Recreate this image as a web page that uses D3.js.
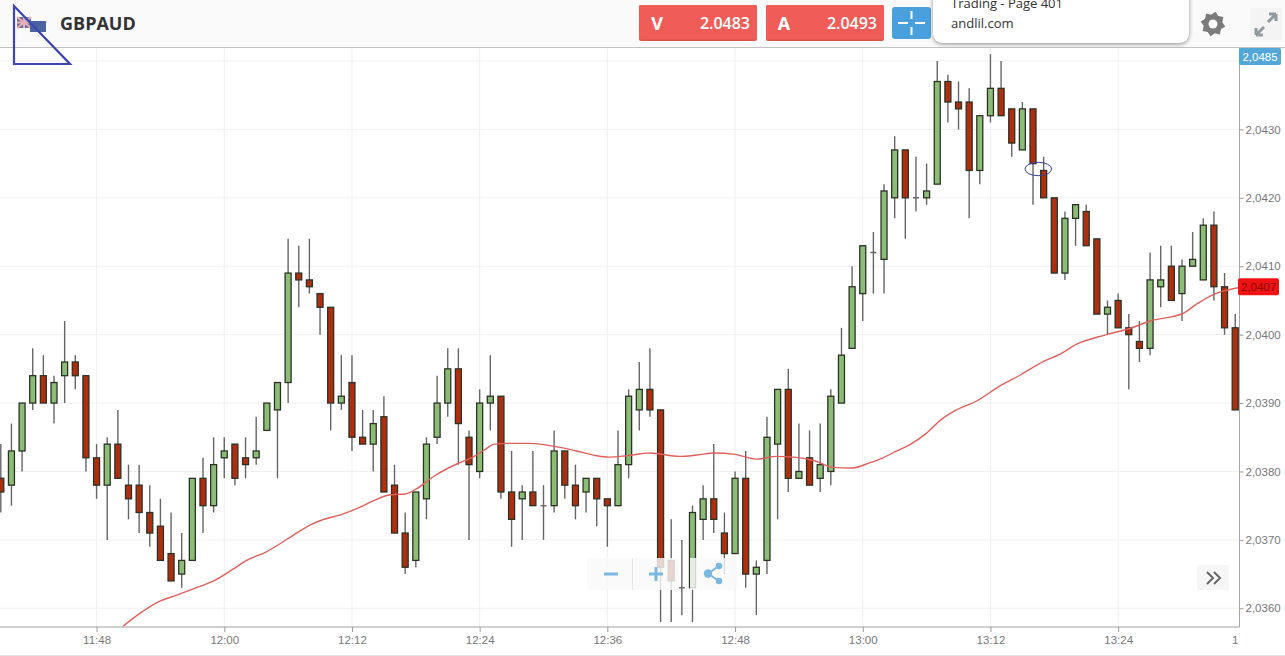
<!DOCTYPE html>
<html>
<head>
<meta charset="utf-8">
<title>GBPAUD</title>
<script src="https://cdn.jsdelivr.net/npm/d3@7"></script>
<style>
    html, body { margin: 0; padding: 0; background: #fff; overflow: hidden; }
    svg { display: block; }
    text { font-family: "Open Sans", sans-serif; }
    .axis text { font-family: "Liberation Sans", Arial, sans-serif; font-size: 11.5px; fill: #777; }
    .axis line { stroke: #999; }
    .axis path { display: none; }
    .grid line { stroke: #f0f0f0; }
    .wick { stroke: #666; stroke-width: 1.4; }
    .body { stroke: #2c3326; stroke-width: 1.3; }
    .card { filter: drop-shadow(0 1px 2px rgba(0, 0, 0, 0.45)); }
</style>
</head>
<body>
<svg id="chart" width="1285" height="656"></svg>
<script>
'use strict'

// prices in 1/10000, one candle per minute starting at 11:39
const opens = [
    20379, 20378, 20383, 20390, 20394, 20390, 20394, 20396, 20394, 20382,
    20378, 20384, 20378, 20378, 20374, 20372, 20368, 20365, 20367, 20379,
    20375, 20382, 20384, 20382, 20382, 20386, 20389, 20393, 20409, 20408,
    20406, 20404, 20390, 20393, 20385, 20384, 20388, 20378, 20371, 20367,
    20376, 20385, 20390, 20395, 20385, 20380, 20390, 20391, 20377, 20376,
    20377, 20375, 20375, 20383, 20378, 20377, 20379, 20376, 20375, 20381,
    20389, 20392, 20389, 20367, 20363, 20363, 20373, 20376, 20371, 20368,
    20379, 20365, 20367, 20384, 20392, 20379, 20382, 20379, 20380, 20390,
    20398, 20406, 20412, 20411, 20420, 20427, 20420, 20420, 20422, 20437,
    20434, 20434, 20424, 20432, 20436, 20433, 20427, 20433, 20424, 20420,
    20409, 20417, 20418, 20414, 20403, 20405, 20401, 20399, 20398, 20407,
    20410, 20406, 20410, 20408, 20416, 20407, 20401,
]
const highs = [
    20384, 20387, 20390, 20398, 20397, 20394, 20402, 20397, 20394, 20384,
    20385, 20389, 20381, 20381, 20378, 20376, 20374, 20371, 20379, 20382,
    20385, 20385, 20384, 20385, 20388, 20390, 20393, 20414, 20413, 20414,
    20406, 20404, 20397, 20397, 20389, 20389, 20391, 20381, 20374, 20377,
    20385, 20394, 20398, 20398, 20386, 20392, 20397, 20391, 20383, 20378,
    20383, 20378, 20386, 20383, 20381, 20379, 20379, 20376, 20386, 20392,
    20396, 20398, 20389, 20373, 20370, 20375, 20378, 20384, 20374, 20380,
    20383, 20367, 20388, 20392, 20395, 20387, 20386, 20387, 20392, 20401,
    20410, 20413, 20415, 20422, 20429, 20427, 20426, 20425, 20440, 20438,
    20437, 20436, 20432, 20441, 20440, 20433, 20434, 20433, 20426, 20420,
    20418, 20419, 20419, 20414, 20405, 20406, 20403, 20402, 20412, 20413,
    20413, 20411, 20415, 20417, 20418, 20409, 20403,
]
const lows = [
    20374, 20375, 20380, 20389, 20390, 20387, 20390, 20392, 20380, 20376,
    20370, 20379, 20373, 20371, 20369, 20367, 20364, 20363, 20367, 20371,
    20374, 20379, 20378, 20379, 20381, 20386, 20379, 20390, 20404, 20406,
    20400, 20386, 20389, 20383, 20384, 20380, 20377, 20371, 20365, 20366,
    20373, 20384, 20388, 20381, 20370, 20379, 20386, 20376, 20369, 20370,
    20375, 20370, 20374, 20376, 20373, 20374, 20372, 20369, 20375, 20379,
    20386, 20388, 20358, 20358, 20359, 20358, 20370, 20371, 20365, 20368,
    20363, 20359, 20365, 20373, 20377, 20379, 20378, 20377, 20378, 20390,
    20398, 20402, 20406, 20406, 20417, 20414, 20418, 20419, 20422, 20431,
    20430, 20417, 20422, 20431, 20432, 20426, 20427, 20419, 20420, 20409,
    20408, 20413, 20413, 20403, 20400, 20401, 20392, 20396, 20397, 20404,
    20405, 20402, 20410, 20408, 20405, 20400, 20389,
]
const closes = [
    20377, 20383, 20390, 20394, 20390, 20393, 20396, 20394, 20382, 20378,
    20384, 20379, 20376, 20374, 20371, 20367, 20364, 20367, 20379, 20375,
    20381, 20383, 20379, 20381, 20383, 20390, 20393, 20409, 20408, 20407,
    20404, 20390, 20391, 20385, 20384, 20387, 20377, 20371, 20366, 20377,
    20384, 20390, 20395, 20387, 20381, 20390, 20391, 20377, 20373, 20377,
    20375, 20375, 20383, 20378, 20375, 20379, 20376, 20375, 20381, 20391,
    20392, 20389, 20366, 20364, 20363, 20374, 20376, 20373, 20368, 20379,
    20365, 20366, 20385, 20392, 20379, 20380, 20378, 20381, 20391, 20397,
    20407, 20413, 20412, 20421, 20427, 20420, 20420, 20421, 20437, 20434,
    20433, 20424, 20432, 20436, 20432, 20428, 20433, 20425, 20420, 20409,
    20417, 20419, 20413, 20403, 20404, 20401, 20400, 20398, 20408, 20408,
    20405, 20410, 20411, 20416, 20407, 20401, 20389,
]

// moving average: minutes after 11:39 and price
const maMinutes = [
    11.5, 13.1, 15, 16.5, 18.7, 20, 21.9, 23.1, 25, 26.2, 27.5, 29.1, 30, 32.2,
    33.5, 35, 36.6, 38, 39.1, 40.7, 43, 44.1, 45.4, 46.4, 47.5, 49.7, 51.9,
    54.1, 56, 57.1, 58.8, 61, 63.8, 65.4, 67, 69, 71, 72.9, 74.5, 76.4, 78.2,
    80, 81.7, 82.9, 84.2, 85.4, 87, 88.3, 89.8, 91.7, 93.9, 95.8, 98, 99.5,
    101.1, 103.9, 106.1, 108, 111.1, 112.4, 114, 115.2, 116.4,
]
const maValues = [
    20357.4, 20359.3, 20361.1, 20361.9, 20363.2, 20364, 20365.8, 20367, 20368.3,
    20369.4, 20370.7, 20372.2, 20372.8, 20373.8, 20374.6, 20375.7, 20376.6,
    20376.7, 20377.5, 20379.3, 20381.2, 20381.9, 20383.1, 20384, 20384.1,
    20384.1, 20383.7, 20383, 20382.3, 20382.1, 20382.3, 20382.7, 20382.2,
    20382.4, 20382.7, 20382.5, 20381.8, 20382.2, 20382.1, 20381.6, 20380.6,
    20380.5, 20381.3, 20382, 20383, 20383.9, 20385.6, 20387.5, 20389, 20390.3,
    20392.5, 20394.1, 20396.1, 20397.1, 20398.6, 20400, 20400.9, 20402, 20403.1,
    20404.5, 20405.9, 20406.5, 20406.9,
]

const priceTicks = [20360, 20370, 20380, 20390, 20400, 20410, 20420, 20430]
const gridPrices = priceTicks.concat([20440])
const timeTicks = ['11:48', '12:00', '12:12', '12:24', '12:36', '12:48', '13:00', '13:12', '13:24', '13:36']

const symbol = 'GBPAUD'
const bid = '2.0483'
const ask = '2.0493'
const topPrice = '2,0485'
const maLast = 20407

const plotRight = 1239.5
const plotTop = 47
const plotBottom = 627
const bodyWidth = 6

const parseTime = d3.timeParse('%H:%M')
const firstTime = parseTime('11:39')
function atMinute(m) {
    return firstTime.getTime() + m * 60000
}

const x = d3.scaleTime()
    .domain([atMinute(0), atMinute(116)])
    .range([0.8, 1235.2])
const y = d3.scaleLinear()
    .domain([20360, 20430])
    .range([608.3, 129.4])

const svg = d3.select('#chart')

svg.append('defs').append('clipPath')
    .attr('id', 'plot-clip')
    .append('rect')
    .attr('x', 0)
    .attr('y', plotTop)
    .attr('width', plotRight)
    .attr('height', plotBottom - plotTop)

// the last time label runs under the price axis and only its first digit shows
svg.append('defs').append('clipPath')
    .attr('id', 'time-clip')
    .append('rect')
    .attr('x', 0)
    .attr('y', 0)
    .attr('width', plotRight - 1)
    .attr('height', 28)

// grid
const grid = svg.append('g').attr('class', 'grid')
grid.selectAll('.h')
    .data(gridPrices)
    .enter()
    .append('line')
    .attr('x1', 0)
    .attr('x2', plotRight)
    .attr('y1', function (d) { return y(d) })
    .attr('y2', function (d) { return y(d) })
grid.selectAll('.v')
    .data(timeTicks.slice(0, -1))
    .enter()
    .append('line')
    .attr('x1', function (d) { return x(parseTime(d)) })
    .attr('x2', function (d) { return x(parseTime(d)) })
    .attr('y1', plotTop)
    .attr('y2', plotBottom)

// candles
const candles = svg.append('g')
    .attr('clip-path', 'url(#plot-clip)')
    .selectAll('g')
    .data(opens.map(function (o, i) {
        return { i: i, o: o, h: highs[i], l: lows[i], c: closes[i] }
    }))
    .enter()
    .append('g')
    .attr('transform', function (d) { return 'translate(' + x(atMinute(d.i)) + ' 0)' })

candles.append('line')
    .attr('class', 'wick')
    .attr('y1', function (d) { return y(d.h) })
    .attr('y2', function (d) { return y(d.l) })

candles.append('rect')
    .attr('class', 'body')
    .attr('x', -bodyWidth / 2)
    .attr('width', bodyWidth)
    .attr('y', function (d) { return y(Math.max(d.o, d.c)) })
    .attr('height', function (d) { return Math.abs(y(d.o) - y(d.c)) })
    .attr('fill', function (d) { return d.c >= d.o ? '#8bbd77' : '#ad2f0f' })
    .style('display', function (d) { return d.o === d.c ? 'none' : null })

// doji candles only have a small cross bar
candles.filter(function (d) { return d.o === d.c })
    .append('line')
    .attr('class', 'wick')
    .attr('x1', -bodyWidth / 2)
    .attr('x2', bodyWidth / 2)
    .attr('y1', function (d) { return y(d.o) })
    .attr('y2', function (d) { return y(d.o) })

// moving average
const maLine = d3.line()
    .x(function (d) { return x(atMinute(d[0])) })
    .y(function (d) { return y(d[1]) })
    .curve(d3.curveMonotoneX)

svg.append('path')
    .datum(d3.zip(maMinutes, maValues))
    .attr('clip-path', 'url(#plot-clip)')
    .attr('d', maLine)
    .attr('fill', 'none')
    .attr('stroke', '#e2605c')
    .attr('stroke-width', 1.4)

// hand drawn ellipse on top of the candles
svg.append('ellipse')
    .attr('cx', 1038.3)
    .attr('cy', 169)
    .attr('rx', 13.3)
    .attr('ry', 6.7)
    .attr('fill', 'none')
    .attr('stroke', '#3a3f9c')
    .attr('stroke-width', 1)

// axes
const yAxis = d3.axisRight(y)
    .tickValues(priceTicks)
    .tickSize(4)
    .tickPadding(2)
    .tickFormat(function (d) { return d3.format('.4f')(d / 10000).replace('.', ',') })
svg.append('g')
    .attr('class', 'axis')
    .attr('transform', 'translate(' + plotRight + ' 0)')
    .call(yAxis)

const xAxis = d3.axisBottom(x)
    .tickValues(timeTicks.map(parseTime))
    .tickSize(5)
    .tickPadding(4)
    .tickFormat(d3.timeFormat('%H:%M'))
svg.append('g')
    .attr('class', 'axis')
    .attr('clip-path', 'url(#time-clip)')
    .attr('transform', 'translate(0 ' + plotBottom + ')')
    .call(xAxis)

svg.append('line')
    .attr('x1', plotRight).attr('x2', plotRight)
    .attr('y1', plotTop).attr('y2', plotBottom)
    .attr('stroke', '#a8a8a8')
svg.append('line')
    .attr('x1', 0).attr('x2', plotRight)
    .attr('y1', plotBottom).attr('y2', plotBottom)
    .attr('stroke', '#a0a0a0')
svg.append('line')
    .attr('x1', 0).attr('x2', 1285)
    .attr('y1', 655.5).attr('y2', 655.5)
    .attr('stroke', '#e4e4e4')

// price labels on the axis
function priceLabel(top, left, width, fill, textFill, label) {
    svg.append('rect')
        .attr('x', left).attr('y', top)
        .attr('width', width).attr('height', 17)
        .attr('rx', 2)
        .attr('fill', fill)
    svg.append('text')
        .attr('x', left + width / 2).attr('y', top + 12.5)
        .attr('text-anchor', 'middle')
        .style('font-family', '"Liberation Sans", Arial, sans-serif')
        .style('font-size', '11.5px')
        .attr('fill', textFill)
        .text(label)
}
priceLabel(48, 1239, 42, '#52a7d8', '#ffffff', topPrice)
priceLabel(y(maLast) - 8.5, 1238, 41, '#ee1212', '#8c0808',
    d3.format('.4f')(maLast / 10000).replace('.', ','))

// header bar
const header = svg.append('g')
header.append('rect')
    .attr('width', 1285).attr('height', plotTop)
    .attr('fill', '#fafafa')
header.append('line')
    .attr('x1', 0).attr('x2', 1285)
    .attr('y1', plotTop + 0.5).attr('y2', plotTop + 0.5)
    .attr('stroke', '#c2c2c2')

// small flags
header.append('rect')
    .attr('x', 17).attr('y', 17).attr('width', 14).attr('height', 11)
    .attr('fill', '#6a6f9f')
header.append('path')
    .attr('d', 'M17 17L31 28M31 17L17 28M24 17V28M17 22.5H31')
    .attr('stroke', '#e8b0b4')
    .attr('stroke-width', 2)
header.append('rect')
    .attr('x', 30).attr('y', 21).attr('width', 16).attr('height', 11)
    .attr('fill', '#4a64a0')

header.append('text')
    .attr('x', 60).attr('y', 30)
    .style('font-size', '18px')
    .style('font-weight', 700)
    .attr('fill', '#333')
    .text(symbol)

function priceButton(left, letter, price) {
    header.append('rect')
        .attr('x', left).attr('y', 5)
        .attr('width', 118).attr('height', 36)
        .attr('rx', 2)
        .attr('fill', '#d9534f')
    header.append('rect')
        .attr('x', left).attr('y', 5)
        .attr('width', 118).attr('height', 34.5)
        .attr('rx', 2)
        .attr('fill', '#f05c58')
    header.append('text')
        .attr('x', left + 18).attr('y', 30)
        .attr('text-anchor', 'middle')
        .style('font-size', '18px')
        .style('font-weight', 700)
        .attr('fill', '#fff')
        .text(letter)
    header.append('text')
        .attr('x', left + 111).attr('y', 29)
        .attr('text-anchor', 'end')
        .style('font-size', '16px')
        .style('font-weight', 600)
        .attr('fill', '#fff')
        .text(price)
}
priceButton(639, 'V', bid)
priceButton(766, 'A', ask)

header.append('rect')
    .attr('x', 892).attr('y', 7)
    .attr('width', 39).attr('height', 32)
    .attr('rx', 3)
    .attr('fill', '#4aa0dc')
header.append('path')
    .attr('d', 'M898 23H908M915 23H925M911.5 11V19M911.5 27V35')
    .attr('stroke', '#fff')
    .attr('stroke-width', 2)

// popup card cut off by the top of the page
header.append('rect')
    .attr('class', 'card')
    .attr('x', 933).attr('y', -12)
    .attr('width', 256).attr('height', 55)
    .attr('rx', 9)
    .attr('fill', '#fff')
header.append('text')
    .attr('x', 951).attr('y', 8)
    .style('font-size', '13px')
    .attr('fill', '#333')
    .text('Trading - Page 401')
header.append('text')
    .attr('x', 951).attr('y', 28)
    .style('font-size', '13px')
    .attr('fill', '#333')
    .text('andlil.com')

// settings gear
const gearPoints = d3.range(16).map(function (i) {
    const a = i * Math.PI / 8 + Math.PI / 16
    const r = (i % 2 === 0) ? 12.5 : 9.5
    return [r * Math.cos(a), r * Math.sin(a)]
})
const gear = header.append('g').attr('transform', 'translate(1213 24)')
gear.append('path')
    .attr('d', d3.line().curve(d3.curveLinearClosed)(gearPoints))
    .attr('fill', '#7b7b7b')
gear.append('circle')
    .attr('r', 4.5)
    .attr('fill', '#fafafa')

// fullscreen button
header.append('rect')
    .attr('x', 1250).attr('y', 8)
    .attr('width', 32).attr('height', 32)
    .attr('fill', '#f4f4f4')
header.append('path')
    .attr('d', 'M1256 35L1264 27M1256 35V28M1256 35H1263M1276 14L1268 22M1276 14V21M1276 14H1269')
    .attr('fill', 'none')
    .attr('stroke', '#8f9a9f')
    .attr('stroke-width', 3)

// zoom toolbar floats over the candles
const toolbar = svg.append('g')
toolbar.append('path')
    .attr('d', 'M679 558H592a5 5 0 0 0 -5 5V585a5 5 0 0 0 5 5H679Z')
    .attr('fill', 'rgba(249, 249, 249, 0.82)')
toolbar.append('path')
    .attr('d', 'M690 558H732a5 5 0 0 1 5 5V585a5 5 0 0 1 -5 5H690Z')
    .attr('fill', 'rgba(249, 249, 249, 0.82)')
toolbar.append('line')
    .attr('x1', 632.5).attr('x2', 632.5)
    .attr('y1', 558).attr('y2', 590)
    .attr('stroke', '#e6e6e6')
toolbar.append('path')
    .attr('d', 'M604 574H618M649 574H663M656 567V581')
    .attr('stroke', '#7ab8e2')
    .attr('stroke-width', 3)
    .attr('fill', 'none')
toolbar.append('path')
    .attr('d', 'M708 573.5L719 566M708 573.5L719 581')
    .attr('stroke', '#7ab8e2')
    .attr('stroke-width', 2)
toolbar.selectAll('circle')
    .data([[708, 573.5, 4.2], [719, 566, 3.3], [719, 581, 3.3]])
    .enter()
    .append('circle')
    .attr('cx', function (d) { return d[0] })
    .attr('cy', function (d) { return d[1] })
    .attr('r', function (d) { return d[2] })
    .attr('fill', '#7ab8e2')

// scroll to latest button
svg.append('rect')
    .attr('x', 1197).attr('y', 565)
    .attr('width', 32).attr('height', 25)
    .attr('rx', 3)
    .attr('fill', '#f6f6f6')
svg.append('path')
    .attr('d', 'M1207 572L1213 578L1207 584M1214 572L1220 578L1214 584')
    .attr('fill', 'none')
    .attr('stroke', '#666')
    .attr('stroke-width', 2)

// annotation triangle drawn over the page
svg.append('path')
    .attr('d', 'M14 6V64H70Z')
    .attr('fill', 'none')
    .attr('stroke', '#3b46b4')
    .attr('stroke-width', 2.2)
</script>
</body>
</html>
